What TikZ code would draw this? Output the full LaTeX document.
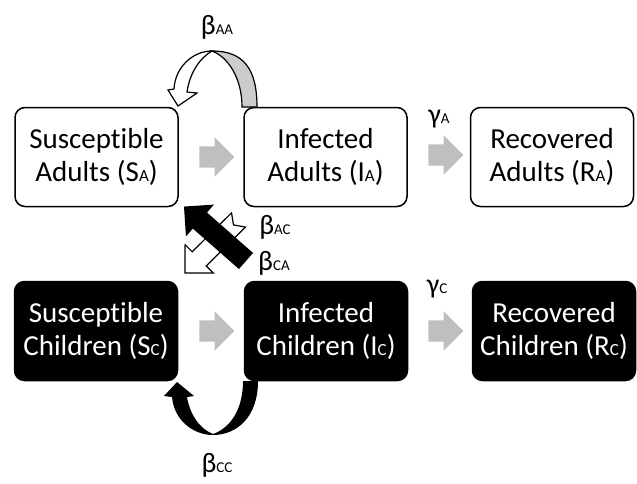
\documentclass[tikz,border=0pt]{standalone}
\usepackage{fontspec}
\setmainfont{Carlito}[Ligatures=NoCommon]
\usetikzlibrary{shapes.arrows}

\definecolor{flowgray}{HTML}{BFBFBF}
\definecolor{loopgray}{HTML}{CCCCCC}
\newcommand{\cidx}[1]{{\fontsize{17}{17}\selectfont #1}}
\newcommand{\ridx}[1]{{\fontsize{15}{15}\selectfont #1}}

\begin{document}
\begin{tikzpicture}[x=1pt, y=-1pt,
    adult/.style={draw, line width=1.5pt, rounded corners=10pt, fill=white,
      minimum width=163pt, minimum height=99pt, align=center,
      font=\fontsize{29}{33}\selectfont},
    child/.style={adult, fill=black, text=white},
    flow/.style={single arrow, fill=flowgray, minimum height=35pt,
      minimum width=39pt, single arrow head extend=9pt,
      inner xsep=0pt, inner ysep=10.5pt},
    rate/.style={font=\fontsize{28}{28}\selectfont, inner sep=0pt}]
    \useasboundingbox (0,0) rectangle (637,483);

    % Within-group loops (drawn under the boxes)
    \filldraw[fill=loopgray, line width=1.2pt] (257,107) .. controls (257,68) and (243,51) .. (212,51)
        .. controls (228,57) and (242,78) .. (242,107) -- cycle;
    \filldraw[fill=white, line width=1.2pt] (212,51) .. controls (192,51) and (175,68) .. (174,89)
        -- (168,90) -- (178,106) -- (197,93) -- (187,92)
        .. controls (190,72) and (200,58) .. (212,51) -- cycle;
    \fill (258,381) .. controls (258,418) and (236,435) .. (213,435)
        .. controls (193,435) and (174,420) .. (172,397) -- (164,396) -- (177,382) -- (194,396) -- (187,397)
        .. controls (190,415) and (200,429) .. (213,434)
        .. controls (230,428) and (243,410) .. (243,381) -- cycle;

    % Compartments (adults)
    \node[adult] (SA) at (96.5,157) {Susceptible\\Adults (S\cidx{A})};
    \node[adult] (IA) at (325.5,157) {Infected\\Adults (I\cidx{A})};
    \node[adult] (RA) at (552,157) {Recovered\\Adults (R\cidx{A})};

    % Compartments (children)
    \node[child] (SC) at (96,331) {Susceptible\\Children (S\cidx{C})};
    \node[child] (IC) at (326,331) {Infected\\Children (I\cidx{C})};
    \node[child] (RC) at (554,331) {Recovered\\Children (R\cidx{C})};

    % Progression arrows
    \node[flow] (fSA) at (211.5,157) {};
    \node[flow] (fIA) at (440.5,155) {};
    \node[flow] (fSC) at (211.5,331) {};
    \node[flow] (fIC) at (440.5,331) {};

    % Cross-group infection
    \filldraw[fill=white, line width=1.2pt] (185,273) -- (213.3,273.1) -- (206.2,266.0) -- (245.5,227.1)
        -- (233.5,224.9) -- (231.5,212.9) -- (192.2,251.8) -- (185.1,244.7) -- cycle;
    \node[single arrow, fill=black, rotate=138.7, minimum height=82.5pt, minimum width=42pt,
        single arrow head extend=10.5pt, inner xsep=0pt, inner ysep=10.5pt] (xAC) at (219,237.3) {};

    % Rate labels
    \node[rate] (bAA) at (217,27) {β\ridx{AA}};
    \node[rate] (gA) at (439,119) {γ\ridx{A}};
    \node[rate] (gC) at (437,289) {γ\ridx{C}};
    \node[rate] (bAC) at (275,227) {β\ridx{AC}};
    \node[rate] (bCA) at (274,263) {β\ridx{CA}};
    \node[rate] (bCC) at (217,465) {β\ridx{CC}};
\end{tikzpicture}
\end{document}
